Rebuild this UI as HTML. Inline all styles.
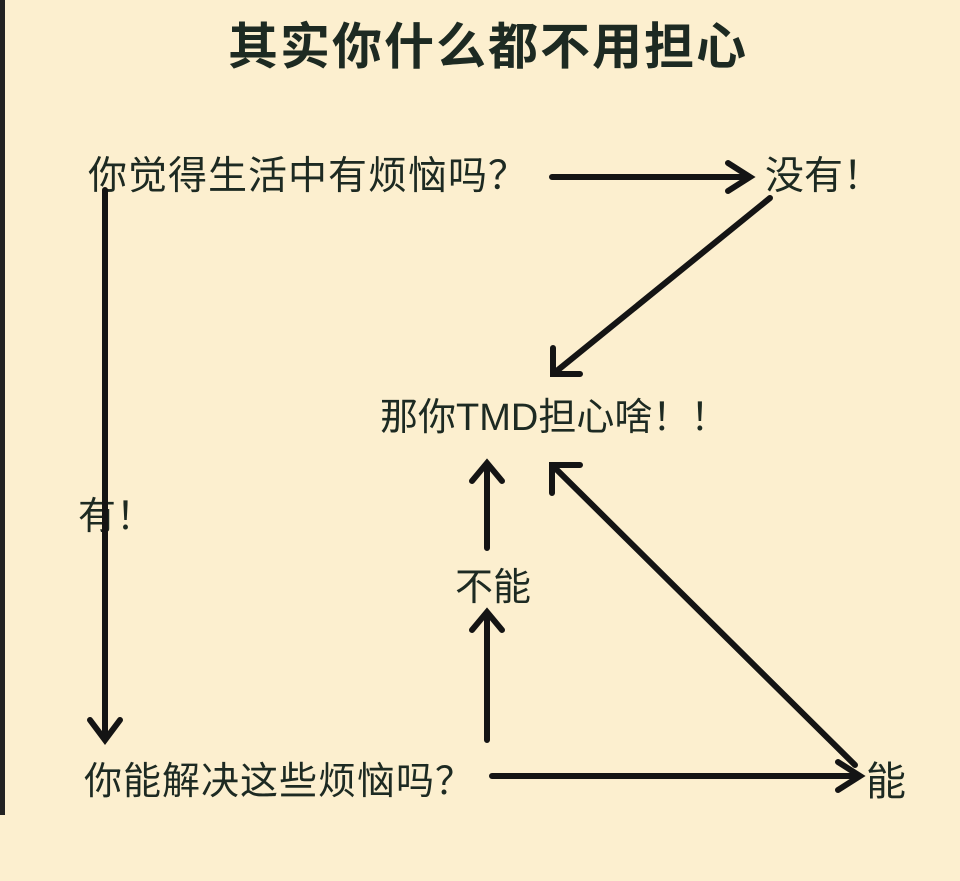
<!DOCTYPE html>
<html><head><meta charset="utf-8"><style>
html,body{margin:0;padding:0}
body{width:960px;height:881px;background:#fcefcf;position:relative;overflow:hidden;font-family:"Noto Sans CJK SC","Liberation Sans",sans-serif;color:#1d2a22}
.t{position:absolute;white-space:nowrap;line-height:1}
svg{position:absolute;left:0;top:0}
</style></head><body>
<div style="position:absolute;left:0;top:0;width:5px;height:815px;background:#222"></div>
<div class="t" style="left:228px;top:18px;font-size:50px;letter-spacing:2px;font-weight:bold">其实你什么都不用担心</div>
<div class="t" style="left:88px;top:154px;font-size:39px;letter-spacing:1px">你觉得生活中有烦恼吗？</div>
<div class="t" style="left:765px;top:154px;font-size:39px">没有！</div>
<div class="t" style="left:380px;top:395px;font-size:38px">那你<span style="font-family:'Liberation Sans',sans-serif">TMD</span>担心啥！！</div>
<div class="t" style="left:78px;top:494px;font-size:38px">有！</div>
<div class="t" style="left:455px;top:565px;font-size:38px">不能</div>
<div class="t" style="left:84px;top:759px;font-size:38px;letter-spacing:1px">你能解决这些烦恼吗？</div>
<div class="t" style="left:866px;top:758px;font-size:40px">能</div>
<svg width="960" height="881" fill="none" stroke="#141414" stroke-width="6" stroke-linecap="round" stroke-linejoin="miter">
<path d="M552 177 H750 M728 163 L750 177 L728 191"/>
<path d="M770 198 L553 374 M553 348 L553 374 L580 374"/>
<path d="M105 190 V740 M90 720 L105 740 L120 720"/>
<path d="M492 776 H860 M838 762 L860 776 L838 790"/>
<path d="M487 740 V612 M472 630 L487 612 L502 630"/>
<path d="M487 548 V463 M472 481 L487 463 L502 481"/>
<path d="M855 765 L552 465 M552 493 L552 465 L580 465"/>
</svg>
</body></html>
